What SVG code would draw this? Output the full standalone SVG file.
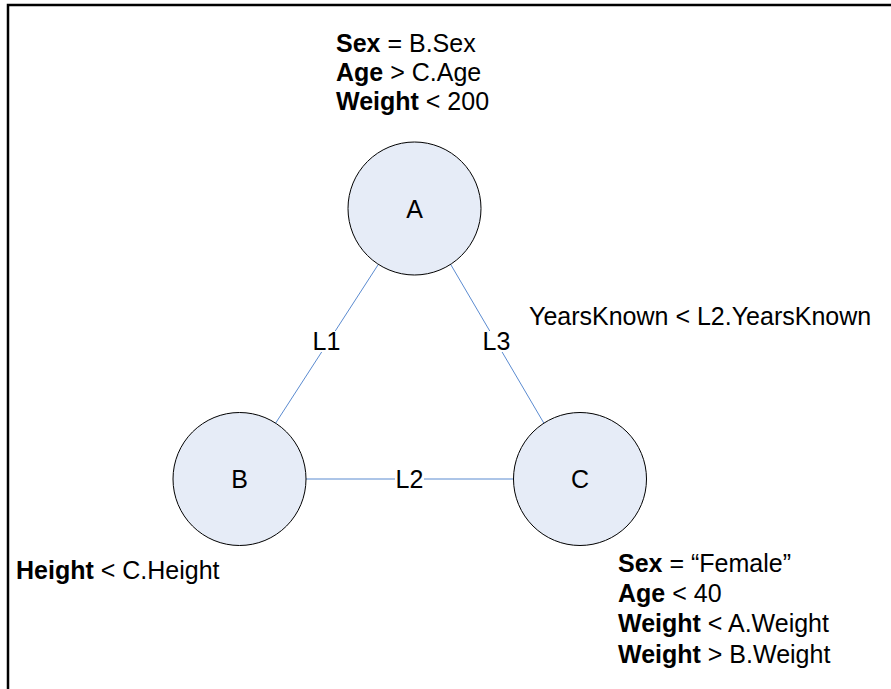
<svg xmlns="http://www.w3.org/2000/svg" width="891" height="689" viewBox="0 0 891 689">
<style>
  text { font-family: "Liberation Sans", Arial, sans-serif; font-size: 25px; fill: #000; }
  .b { font-weight: bold; }
  .node circle { fill: #E6ECF7; stroke: #000; stroke-width: 1; }
  .lbl { text-anchor: middle; }
  #connectors line { stroke: #5B8BD0; stroke-width: 1; }
  .bg { fill: #fff; }
</style>
<rect x="0" y="0" width="891" height="689" fill="#fff"/>
<path d="M8,689 V5 H891" fill="none" stroke="#000" stroke-width="2.5"/>

<g id="connectors">
  <line x1="378.4" y1="264.3" x2="275.6" y2="423.2"/>
  <line x1="450.6" y1="264.3" x2="543.9" y2="423.2"/>
  <line x1="306" y1="479" x2="513" y2="479"/>
  <rect class="bg" x="312" y="331" width="29" height="21"/>
  <text class="lbl" x="326.5" y="350">L1</text>
  <rect class="bg" x="482" y="331" width="29" height="21"/>
  <text class="lbl" x="496.5" y="350">L3</text>
  <rect class="bg" x="395" y="469" width="29" height="21"/>
  <text class="lbl" x="409.5" y="488">L2</text>
</g>

<g id="A" class="node">
  <circle cx="414.5" cy="208.5" r="66.5"/>
  <text class="lbl" x="414.5" y="217.5">A</text>
</g>
<g id="B" class="node">
  <circle cx="239.5" cy="479" r="66.5"/>
  <text class="lbl" x="239.5" y="488">B</text>
</g>
<g id="C" class="node">
  <circle cx="580" cy="479" r="66.5"/>
  <text class="lbl" x="580" y="488">C</text>
</g>

<g id="A-constraints">
  <text x="336" y="52"><tspan class="b">Sex</tspan> = B.Sex</text>
  <text x="336" y="81"><tspan class="b">Age</tspan> &gt; C.Age</text>
  <text x="336" y="110"><tspan class="b">Weight</tspan> &lt; 200</text>
</g>
<g id="B-constraints">
  <text x="16" y="579"><tspan class="b">Height</tspan> &lt; C.Height</text>
</g>
<g id="C-constraints">
  <text x="618" y="571.5"><tspan class="b">Sex</tspan> = “Female”</text>
  <text x="618" y="602"><tspan class="b">Age</tspan> &lt; 40</text>
  <text x="618" y="632"><tspan class="b">Weight</tspan> &lt; A.Weight</text>
  <text x="618" y="662.5"><tspan class="b">Weight</tspan> &gt; B.Weight</text>
</g>
<g id="L3-constraint">
  <text x="529" y="325">YearsKnown &lt; L2.YearsKnown</text>
</g>
</svg>
